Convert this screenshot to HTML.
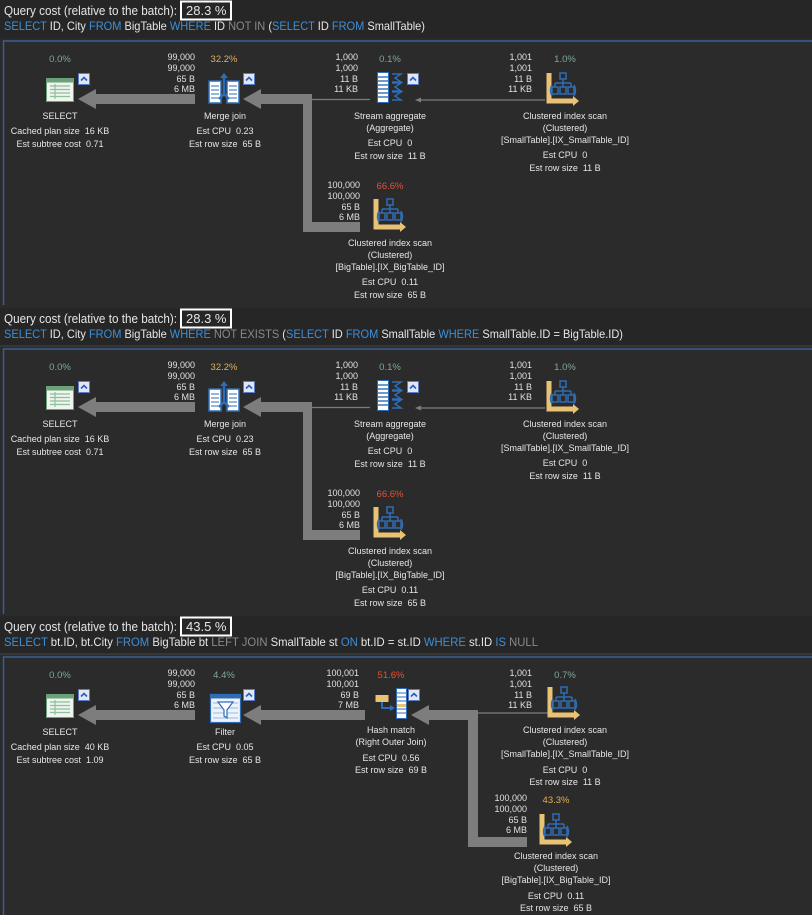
<!DOCTYPE html>
<html><head><meta charset="utf-8"><style>
html,body{margin:0;padding:0;background:#2b2b2b;}
svg{display:block;font-family:"Liberation Sans",sans-serif;}
text{white-space:pre;}
.h{font-size:13px;fill:#e6e6e6;}
.q{font-size:12px;fill:#e6e6e6;}
.k{fill:#3d8fd8;}
.g{fill:#8a8a8a;}
.s{font-size:9px;fill:#e0e0e0;text-anchor:end;}
.l{font-size:9px;fill:#e6e6e6;text-anchor:middle;}
.p{font-size:9.5px;text-anchor:middle;}
.pg{fill:#7fa898;}.po{fill:#e2b050;}.pr{fill:#e0533a;}
</style></head><body>
<svg width="812" height="915" viewBox="0 0 812 915">
<defs>
<g id="btn"><rect x="0.5" y="0.5" width="11" height="11" fill="#dfe7f7" stroke="#5a7cc8"/><path d="M3 7.5 L6 4.5 L9 7.5" fill="none" stroke="#2a5cb8" stroke-width="1.6"/></g>
<g id="sel"><rect x="0.5" y="0.5" width="27" height="23" fill="#eef4ee" stroke="#6aa07a"/><rect x="0.5" y="0.5" width="27" height="4" fill="#6aa07a"/><g stroke="#8fbf9a" stroke-width="1.2"><line x1="4" y1="8" x2="24" y2="8"/><line x1="4" y1="11.5" x2="24" y2="11.5"/><line x1="4" y1="15" x2="24" y2="15"/><line x1="4" y1="18.5" x2="24" y2="18.5"/><line x1="9" y1="6" x2="9" y2="21"/></g></g>
<g id="mj"><rect x="1" y="9" width="12" height="22" fill="#fff" stroke="#2e6db5" stroke-width="1.5"/><rect x="19" y="9" width="12" height="22" fill="#fff" stroke="#2e6db5" stroke-width="1.5"/><g stroke="#2e6db5"><line x1="3" y1="14" x2="11" y2="14"/><line x1="3" y1="18" x2="11" y2="18"/><line x1="3" y1="22" x2="11" y2="22"/><line x1="3" y1="26" x2="11" y2="26"/><line x1="21" y1="14" x2="29" y2="14"/><line x1="21" y1="18" x2="29" y2="18"/><line x1="21" y1="22" x2="29" y2="22"/><line x1="21" y1="26" x2="29" y2="26"/></g><path d="M16 3 V22 M11 27 L16 22 L21 27" fill="none" stroke="#2e6db5" stroke-width="2.5"/><path d="M12 6 L16 1 L20 6 Z" fill="#2e6db5"/></g>
<g id="sa"><rect x="0.5" y="0.5" width="11" height="30" fill="#fff" stroke="#2e6db5"/><g stroke="#2e6db5" stroke-width="1.4"><line x1="1" y1="5" x2="11" y2="5"/><line x1="1" y1="9" x2="11" y2="9"/><line x1="1" y1="13" x2="11" y2="13"/><line x1="1" y1="17" x2="11" y2="17"/><line x1="1" y1="21" x2="11" y2="21"/><line x1="1" y1="25" x2="11" y2="25"/></g><path d="M15 2 H24 L18 6 L24 10 H15 M15 11 H24 L18 15 L24 19 H15 M15 20 H24 L18 24 L24 28 H15" fill="none" stroke="#2e6db5" stroke-width="1.5"/></g>
<g id="scan"><path d="M2 2 V30 H28" fill="none" stroke="#e8c275" stroke-width="5"/><path d="M26 25 L32 30 L26 35 Z" fill="#e8c275"/><g fill="none" stroke="#2e6db5" stroke-width="1.5"><rect x="13" y="2" width="6" height="6"/><path d="M16 8 V12 M8 12 H24 M8 12 V16 M16 12 V16 M24 12 V16"/><rect x="5" y="16" width="6" height="7"/><rect x="13" y="16" width="6" height="7"/><rect x="21" y="16" width="6" height="7"/><path d="M5 14 Q2 19.5 5 25 M27 14 Q30 19.5 27 25"/></g></g>
<g id="flt"><rect x="0.5" y="0.5" width="30" height="28" fill="#eef3fb" stroke="#2e6db5" stroke-width="1.2"/><rect x="0.5" y="0.5" width="30" height="4" fill="#2e6db5"/><g stroke="#9bb8e0"><line x1="3" y1="9" x2="28" y2="9"/><line x1="3" y1="14" x2="28" y2="14"/><line x1="3" y1="19" x2="28" y2="19"/><line x1="3" y1="24" x2="28" y2="24"/></g><path d="M8 8 H23 L17 16 V24 L14 22 V16 Z" fill="#fff" stroke="#2e6db5" stroke-width="1.2"/></g>
<g id="hm"><rect x="0.5" y="7" width="13" height="7" fill="#e8c275"/><path d="M7 14 V20 H16" fill="none" stroke="#2e6db5" stroke-width="2"/><path d="M15 17 L20 20 L15 23 Z" fill="#2e6db5"/><rect x="21.5" y="0.5" width="10" height="30" fill="#fff" stroke="#2e6db5"/><g stroke="#2e6db5"><line x1="22" y1="5" x2="31" y2="5"/><line x1="22" y1="9" x2="31" y2="9"/><line x1="22" y1="13" x2="31" y2="13"/><line x1="22" y1="21" x2="31" y2="21"/><line x1="22" y1="25" x2="31" y2="25"/></g><rect x="22" y="16" width="9" height="3" fill="#e8c275"/></g>
</defs>

<rect x="0" y="0" width="812" height="38" fill="#262627"/>
<rect x="0" y="308" width="812" height="38" fill="#262627"/>
<rect x="0" y="616" width="812" height="38" fill="#262627"/>
<g fill="none" stroke="#3a5f8f" stroke-width="1.5">
<path d="M3.5 305 V41 H812"/><path d="M3.5 614 V349 H812"/><path d="M3.5 915 V657 H812"/>
</g>
<line x1="0" y1="346" x2="812" y2="346" stroke="#444"/>
<line x1="0" y1="654" x2="812" y2="654" stroke="#444"/>

<g>
<text class="h" x="4" y="15" textLength="173" lengthAdjust="spacingAndGlyphs">Query cost (relative to the batch):</text>
<rect x="181" y="1.5" width="50" height="18" fill="none" stroke="#fff" stroke-width="2"/>
<text class="h" x="186" y="15">28.3 %</text>
<text class="q" x="4" y="30" textLength="421" lengthAdjust="spacingAndGlyphs"><tspan class="k">SELECT</tspan> ID, City <tspan class="k">FROM</tspan> BigTable <tspan class="k">WHERE</tspan> ID <tspan class="g">NOT IN</tspan> (<tspan class="k">SELECT</tspan> ID <tspan class="k">FROM</tspan> SmallTable)</text>
</g>

<g id="plan1">
<g fill="#7d7d7d">
<rect x="96" y="94" width="99" height="10"/><path d="M96 89 L78 99 L96 109 Z"/>
<rect x="260" y="94" width="52" height="10"/><path d="M261 89 L243 99 L261 109 Z"/>
<rect x="303" y="94" width="9" height="138"/><rect x="303" y="222" width="57" height="10"/>
</g>
<line x1="312" y1="99.5" x2="370" y2="99.5" stroke="#7d7d7d" stroke-width="1.3"/>
<line x1="420" y1="100" x2="545" y2="100" stroke="#7d7d7d" stroke-width="1.3"/>
<path d="M415 100 L421 97.5 L421 102.5 Z" fill="#7d7d7d"/>
<text class="p pg" x="60" y="62">0.0%</text>
<use href="#sel" x="46" y="78"/><use href="#btn" x="78" y="73"/>
<text class="l" x="60" y="119">SELECT</text>
<text class="l" x="60" y="134">Cached plan size  16 KB</text>
<text class="l" x="60" y="147">Est subtree cost  0.71</text>
<text class="s" x="195" y="60">99,000</text><text class="s" x="195" y="71">99,000</text><text class="s" x="195" y="82">65 B</text><text class="s" x="195" y="92">6 MB</text>
<text class="p po" x="224" y="62">32.2%</text>
<use href="#mj" x="208" y="72"/><use href="#btn" x="243" y="73"/>
<text class="l" x="225" y="119">Merge join</text>
<text class="l" x="225" y="134">Est CPU  0.23</text>
<text class="l" x="225" y="147">Est row size  65 B</text>
<text class="s" x="358" y="60">1,000</text><text class="s" x="358" y="71">1,000</text><text class="s" x="358" y="82">11 B</text><text class="s" x="358" y="92">11 KB</text>
<text class="p pg" x="390" y="62">0.1%</text>
<use href="#sa" x="377" y="72"/><use href="#btn" x="407" y="73"/>
<text class="l" x="390" y="119">Stream aggregate</text>
<text class="l" x="390" y="131">(Aggregate)</text>
<text class="l" x="390" y="146">Est CPU  0</text>
<text class="l" x="390" y="159">Est row size  11 B</text>
<text class="s" x="532" y="60">1,001</text><text class="s" x="532" y="71">1,001</text><text class="s" x="532" y="82">11 B</text><text class="s" x="532" y="92">11 KB</text>
<text class="p pg" x="565" y="62">1.0%</text>
<use href="#scan" x="547" y="71"/>
<text class="l" x="565" y="119">Clustered index scan</text>
<text class="l" x="565" y="131">(Clustered)</text>
<text class="l" x="565" y="143">[SmallTable].[IX_SmallTable_ID]</text>
<text class="l" x="565" y="158">Est CPU  0</text>
<text class="l" x="565" y="171">Est row size  11 B</text>
<text class="s" x="360" y="188">100,000</text><text class="s" x="360" y="199">100,000</text><text class="s" x="360" y="210">65 B</text><text class="s" x="360" y="220">6 MB</text>
<text class="p pr" x="390" y="189">66.6%</text>
<use href="#scan" x="374" y="197"/>
<text class="l" x="390" y="246">Clustered index scan</text>
<text class="l" x="390" y="258">(Clustered)</text>
<text class="l" x="390" y="270">[BigTable].[IX_BigTable_ID]</text>
<text class="l" x="390" y="285">Est CPU  0.11</text>
<text class="l" x="390" y="298">Est row size  65 B</text>
</g>

<g transform="translate(0,308)">
<text class="h" x="4" y="15" textLength="173" lengthAdjust="spacingAndGlyphs">Query cost (relative to the batch):</text>
<rect x="181" y="1.5" width="50" height="18" fill="none" stroke="#fff" stroke-width="2"/>
<text class="h" x="186" y="15">28.3 %</text>
<text class="q" x="4" y="30" textLength="619" lengthAdjust="spacingAndGlyphs"><tspan class="k">SELECT</tspan> ID, City <tspan class="k">FROM</tspan> BigTable <tspan class="k">WHERE</tspan> <tspan class="g">NOT EXISTS</tspan> (<tspan class="k">SELECT</tspan> ID <tspan class="k">FROM</tspan> SmallTable <tspan class="k">WHERE</tspan> SmallTable.ID = BigTable.ID)</text>
<use href="#plan1"/>
</g>

<g transform="translate(0,616)">
<text class="h" x="4" y="15" textLength="173" lengthAdjust="spacingAndGlyphs">Query cost (relative to the batch):</text>
<rect x="181" y="1.5" width="50" height="18" fill="none" stroke="#fff" stroke-width="2"/>
<text class="h" x="186" y="15">43.5 %</text>
<text class="q" x="4" y="30" textLength="534" lengthAdjust="spacingAndGlyphs"><tspan class="k">SELECT</tspan> bt.ID, bt.City <tspan class="k">FROM</tspan> BigTable bt <tspan class="g">LEFT JOIN</tspan> SmallTable st <tspan class="k">ON</tspan> bt.ID = st.ID <tspan class="k">WHERE</tspan> st.ID <tspan class="k">IS</tspan> <tspan class="g">NULL</tspan></text>
<g fill="#7d7d7d">
<rect x="96" y="94" width="99" height="10"/><path d="M96 89 L78 99 L96 109 Z"/>
<rect x="260" y="94" width="105" height="10"/><path d="M261 89 L243 99 L261 109 Z"/>
<rect x="428" y="94" width="50" height="10"/><path d="M429 89 L411 99 L429 109 Z"/>
<rect x="468" y="94" width="10" height="135"/><rect x="468" y="221" width="59" height="10"/>
</g>
<line x1="478" y1="97" x2="548" y2="97" stroke="#7d7d7d" stroke-width="1.3"/>
<text class="p pg" x="60" y="62">0.0%</text>
<use href="#sel" x="46" y="78"/><use href="#btn" x="78" y="73"/>
<text class="l" x="60" y="119">SELECT</text>
<text class="l" x="60" y="134">Cached plan size  40 KB</text>
<text class="l" x="60" y="147">Est subtree cost  1.09</text>
<text class="s" x="195" y="60">99,000</text><text class="s" x="195" y="71">99,000</text><text class="s" x="195" y="82">65 B</text><text class="s" x="195" y="92">6 MB</text>
<text class="p pg" x="224" y="62">4.4%</text>
<use href="#flt" x="210" y="78"/><use href="#btn" x="243" y="73"/>
<text class="l" x="225" y="119">Filter</text>
<text class="l" x="225" y="134">Est CPU  0.05</text>
<text class="l" x="225" y="147">Est row size  65 B</text>
<text class="s" x="359" y="60">100,001</text><text class="s" x="359" y="71">100,001</text><text class="s" x="359" y="82">69 B</text><text class="s" x="359" y="92">7 MB</text>
<text class="p pr" x="391" y="62">51.6%</text>
<use href="#hm" x="375" y="72"/><use href="#btn" x="408" y="73"/>
<text class="l" x="391" y="117">Hash match</text>
<text class="l" x="391" y="129">(Right Outer Join)</text>
<text class="l" x="391" y="145">Est CPU  0.56</text>
<text class="l" x="391" y="157">Est row size  69 B</text>
<text class="s" x="532" y="60">1,001</text><text class="s" x="532" y="71">1,001</text><text class="s" x="532" y="82">11 B</text><text class="s" x="532" y="92">11 KB</text>
<text class="p pg" x="565" y="62">0.7%</text>
<use href="#scan" x="548" y="69"/>
<text class="l" x="565" y="117">Clustered index scan</text>
<text class="l" x="565" y="129">(Clustered)</text>
<text class="l" x="565" y="141">[SmallTable].[IX_SmallTable_ID]</text>
<text class="l" x="565" y="157">Est CPU  0</text>
<text class="l" x="565" y="169">Est row size  11 B</text>
<text class="s" x="527" y="185">100,000</text><text class="s" x="527" y="196">100,000</text><text class="s" x="527" y="207">65 B</text><text class="s" x="527" y="217">6 MB</text>
<text class="p po" x="556" y="187">43.3%</text>
<use href="#scan" x="540" y="196"/>
<text class="l" x="556" y="243">Clustered index scan</text>
<text class="l" x="556" y="255">(Clustered)</text>
<text class="l" x="556" y="267">[BigTable].[IX_BigTable_ID]</text>
<text class="l" x="556" y="283">Est CPU  0.11</text>
<text class="l" x="556" y="295">Est row size  65 B</text>
</g>
</svg>
</body></html>
